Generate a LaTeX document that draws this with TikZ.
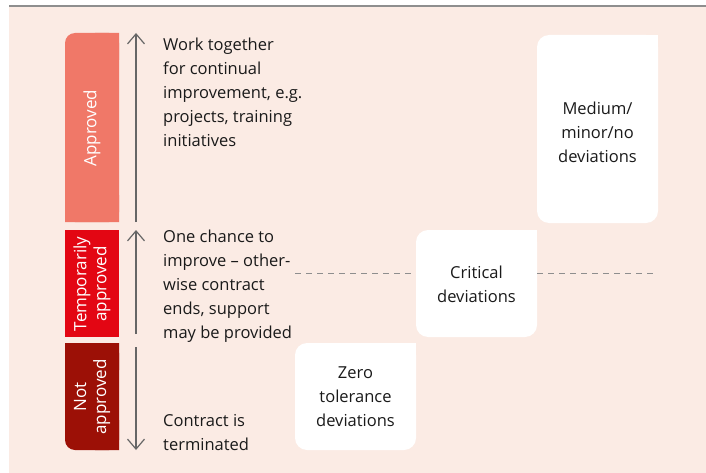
\documentclass[tikz,border=0pt]{standalone}
\usepackage{fontspec}
\setmainfont{Open Sans}
\usetikzlibrary{arrows.meta}

\definecolor{bgpink}{HTML}{FBEBE4}
\definecolor{apprred}{HTML}{F07868}
\definecolor{tempred}{HTML}{E30613}
\definecolor{notred}{HTML}{9C1006}
\definecolor{rulegray}{HTML}{8E8E8E}
\definecolor{arrowgray}{HTML}{666666}
\definecolor{txtblack}{HTML}{1A1A1A}

\begin{document}
\begin{tikzpicture}[x=1pt, y=-1pt,
  desc/.style={text=txtblack, font=\fontsize{16.5}{24}\selectfont, inner sep=0pt, align=left, anchor=north west},
  boxtext/.style={text=txtblack, font=\fontsize{16.5}{24}\selectfont, inner sep=0pt, align=center},
  barlabel/.style={text=white, font=\fontsize{17}{20}\selectfont, inner sep=0pt, align=center, rotate=90},
  devbox/.style={fill=white, rounded corners=12pt, minimum width=121pt, inner sep=0pt},
  scalearrow/.style={draw=arrowgray, line width=1.2pt, -{Straight Barb[length=10pt,width=17pt,line width=1.2pt]}},
  dashes/.style={draw=rulegray, line width=1pt, dash pattern=on 6pt off 5pt}]

\path[use as bounding box] (0,0) rectangle (706,473);

% Background and top rule
\fill[bgpink] (9,7) rectangle (706,473);
\draw[rulegray, line width=1.5pt] (9,6) -- (706,6);

% Status bars (only the outer corners are rounded)
\fill[apprred, rounded corners=10pt] (65,33) rectangle (119,222);
\fill[apprred] (95,33) rectangle (119,60) (65,195) rectangle (119,222);
\fill[tempred] (65,230) rectangle (119,337);
\fill[notred, rounded corners=10pt] (65,343) rectangle (119,450);
\fill[notred] (65,343) rectangle (119,370) (95,420) rectangle (119,450);

\node[barlabel] (appr) at (92,128) {Approved};
\node[barlabel] (temp) at (92,284) {Temporarily\\approved};
\node[barlabel] (notappr) at (92,397) {Not\\approved};

% Arrows next to the bars
\coordinate (apprBot) at (136,222);
\coordinate (apprTop) at (136,33);
\coordinate (tempBot) at (136,334);
\coordinate (tempTop) at (136,230);
\coordinate (notTop) at (136,347);
\coordinate (notBot) at (136,450);
\draw[scalearrow] (apprBot) -- (apprTop);
\draw[scalearrow] (tempBot) -- (tempTop);
\draw[scalearrow] (notTop) -- (notBot);

% Descriptions
\node[desc] (apprtxt) at (163,38) {Work together\\for continual\\improvement, e.g.\\projects, training\\initiatives};
\node[desc] (temptxt) at (163,230) {One chance to\\improve -- other-\\wise contract\\ends, support\\may be provided};
\node[desc] (nottxt) at (163,414) {Contract is\\terminated};

% Deviation boxes (top right corner is square)
\node[devbox, minimum height=107pt] (zerobox) at (355.5,396.5) {};
\node[devbox, minimum height=107pt] (critbox) at (476.5,283.5) {};
\node[devbox, minimum height=188pt] (medbox) at (597.5,129) {};
\foreach \b in {zerobox, critbox, medbox}
  \fill[white] (\b.north east) rectangle ++(-14,14);

\node[boxtext] (zerotxt) at (zerobox) {Zero\\tolerance\\deviations};
\node[boxtext] (crittxt) at ([yshift=-1pt]critbox) {Critical\\deviations};
\node[boxtext] (medtxt) at ([yshift=-3pt]medbox) {Medium/\\minor/no\\deviations};

% Dashed level line
\coordinate (dashL) at (295,273);
\coordinate (dashR) at (658,273);
\draw[dashes] (dashL) -- (dashL -| critbox.west);
\draw[dashes] (dashL -| critbox.east) -- (dashR);

\end{tikzpicture}
\end{document}
